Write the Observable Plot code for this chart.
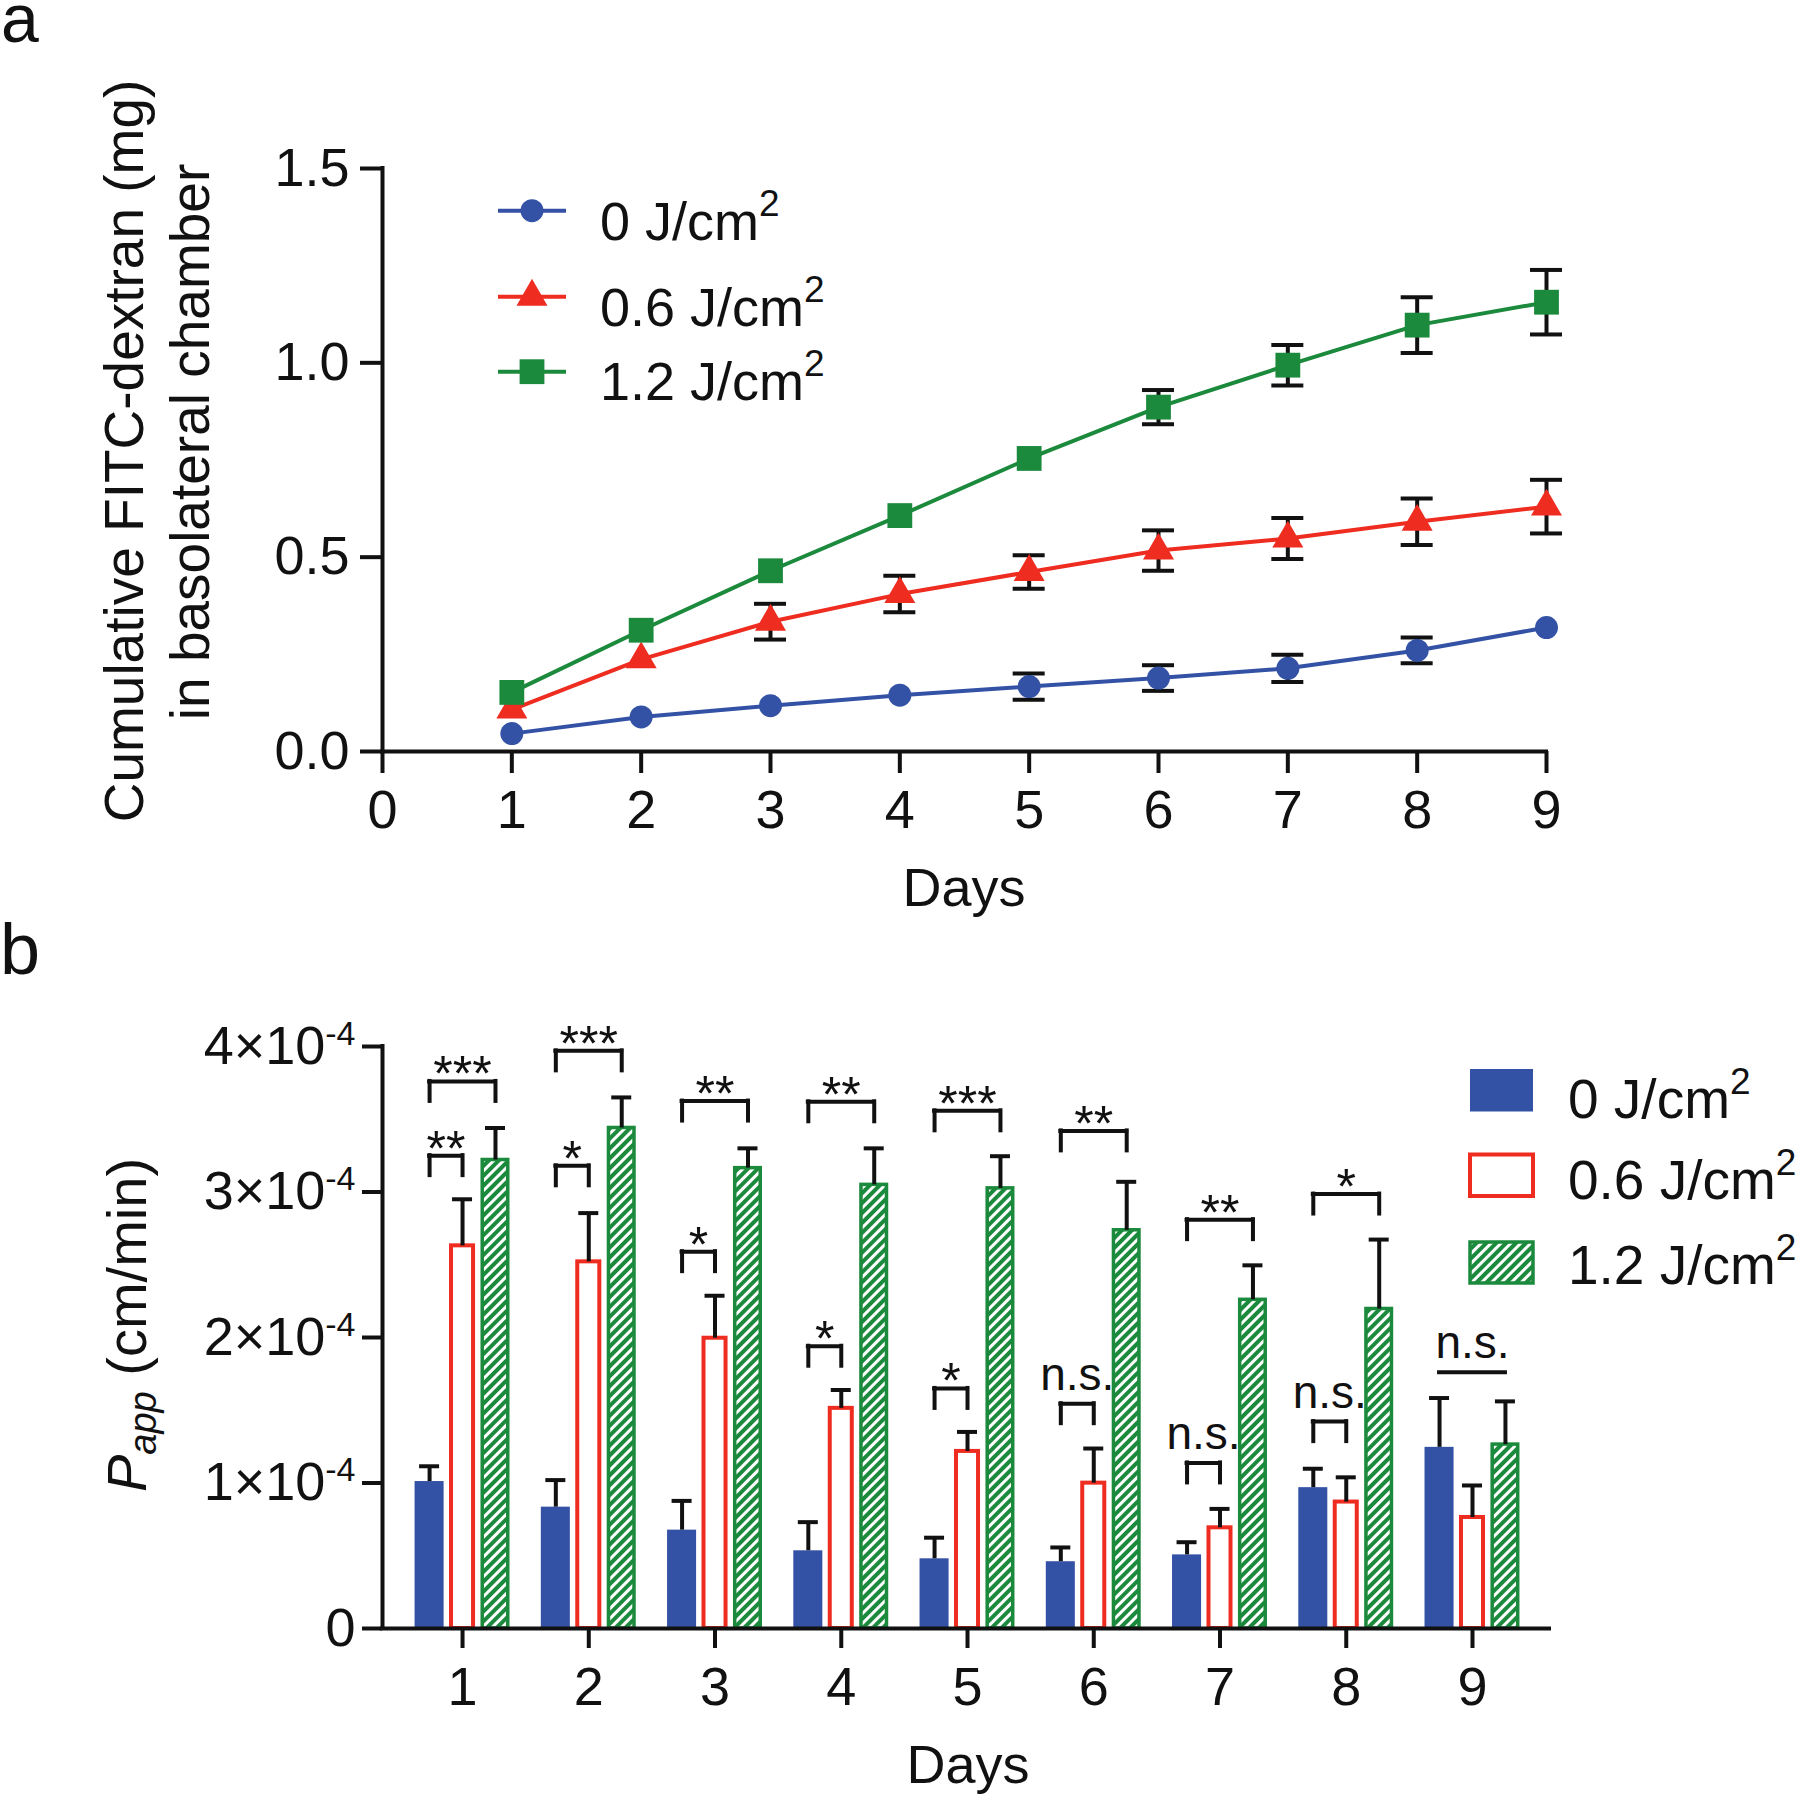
<!DOCTYPE html>
<html><head><meta charset="utf-8">
<script src="https://cdn.jsdelivr.net/npm/d3@7"></script>
<script src="https://cdn.jsdelivr.net/npm/@observablehq/plot@0.6"></script>
<style>
body{margin:0;background:#fff;}
#wrap{position:relative;width:1800px;height:1800px;background:#fff;overflow:hidden;}
#wrap svg{position:absolute;left:0;}
</style></head><body><div id="wrap"></div>
<script>
// ---------- data ----------
const days = [1, 2, 3, 4, 5, 6, 7, 8, 9];
const doseLabels = ["0 J/cm", "0.6 J/cm", "1.2 J/cm"]; // followed by superscript 2
const doseColors = ["#3452A5", "#EE2C20", "#1C8A3C"];

// panel a: cumulative FITC-dextran (mg)
const cum0  = [0.046, 0.089, 0.118, 0.145, 0.167, 0.189, 0.214, 0.260, 0.319];
const cum06 = [0.108, 0.237, 0.334, 0.405, 0.462, 0.517, 0.548, 0.591, 0.630];
const cum12 = [0.152, 0.312, 0.465, 0.607, 0.754, 0.886, 0.994, 1.097, 1.156];
const cumErr0  = [null, null, null, null, 0.034, 0.033, 0.035, 0.033, null];
const cumErr06 = [null, null, 0.046, 0.047, 0.043, 0.052, 0.053, 0.060, 0.069];
const cumErr12 = [null, null, null, null, null, 0.044, 0.052, 0.072, 0.083];
const xTicksA = [0, 1, 2, 3, 4, 5, 6, 7, 8, 9];
const yTicksA = [0, 0.5, 1.0, 1.5];

// panel b: Papp (x10^-4 cm/min)
const papp0  = [1.01, 0.834, 0.676, 0.534, 0.479, 0.459, 0.506, 0.968, 1.245];
const papp06 = [2.63, 2.52, 1.995, 1.513, 1.217, 0.999, 0.692, 0.869, 0.763];
const papp12 = [3.22, 3.44, 3.164, 3.049, 3.025, 2.737, 2.259, 2.196, 1.264];
const pappErr0  = [0.105, 0.186, 0.201, 0.197, 0.145, 0.098, 0.087, 0.130, 0.339];
const pappErr06 = [0.320, 0.335, 0.292, 0.126, 0.134, 0.238, 0.130, 0.170, 0.220];
const pappErr12 = [0.220, 0.210, 0.136, 0.251, 0.221, 0.333, 0.237, 0.477, 0.297];
const yTicksB = [0, 1, 2, 3, 4];

// significance annotations (panel b)
const sigDay   = [1, 1, 2, 2, 3, 3, 4, 4, 5, 5, 6, 6, 7, 7, 8, 8, 9];
const sigPair  = ["0.6", "1.2", "0.6", "1.2", "0.6", "1.2", "0.6", "1.2", "0.6", "1.2", "0.6", "1.2", "0.6", "1.2", "0.6", "1.2", "1.2"];
const sigLevel = [3.25, 3.76, 3.18, 3.97, 2.59, 3.625, 1.94, 3.62, 1.65, 3.558, 1.545, 3.42, 1.138, 2.81, 1.422, 2.986, 1.762];
const sigLabel = ["**", "***", "*", "***", "*", "**", "*", "**", "*", "***", "n.s.", "**", "n.s.", "**", "n.s.", "*", "n.s."];
const sigStyle = ["bracket","bracket","bracket","bracket","bracket","bracket","bracket","bracket","bracket","bracket","bracket","bracket","bracket","bracket","bracket","bracket","line"];

// ---------- setup ----------
const FONT = "'Liberation Sans', Arial, Helvetica, sans-serif";
const wrap = document.getElementById("wrap");
const BLACK = "#111";

// ---------- panel a ----------
const seriesA = [
  {v: cum0,  e: cumErr0,  color: doseColors[0], symbol: "circle",   r: 11.5},
  {v: cum06, e: cumErr06, color: doseColors[1], symbol: "triangle", r: 11.5},
  {v: cum12, e: cumErr12, color: doseColors[2], symbol: "square",   r: 14}
];
const marksA = [];
seriesA.forEach(s => {
  const eRows = days.map((d, i) => ({d, v: s.v[i], e: s.e[i]})).filter(r => r.e != null);
  marksA.push(
    Plot.ruleX(eRows, {x: "d", y1: r => r.v - r.e, y2: r => r.v + r.e, stroke: BLACK, strokeWidth: 4}),
    Plot.ruleY(eRows, {x1: "d", x2: "d", y: r => r.v + r.e, insetLeft: -16, insetRight: -16, stroke: BLACK, strokeWidth: 4}),
    Plot.ruleY(eRows, {x1: "d", x2: "d", y: r => r.v - r.e, insetLeft: -16, insetRight: -16, stroke: BLACK, strokeWidth: 4})
  );
});
seriesA.forEach(s => {
  marksA.push(Plot.line(days, {x: d => d, y: (d, i) => s.v[i], stroke: s.color, strokeWidth: 4}));
});
seriesA.forEach(s => {
  marksA.push(Plot.dot(days, {x: d => d, y: (d, i) => s.v[i], symbol: s.symbol, r: s.r, fill: s.color, stroke: "none"}));
});

const plotA = Plot.plot({
  width: 1800, height: 880,
  marginLeft: 382, marginRight: 254, marginTop: 168, marginBottom: 129,
  x: {domain: [0, 9]},
  y: {domain: [0, 1.5]},
  style: {fontFamily: FONT, fontSize: "54px", color: BLACK, background: "transparent", overflow: "visible"},
  marks: [
    Plot.axisX({ticks: xTicksA, tickSize: 22, tickPadding: 16, strokeWidth: 4, tickFormat: d => String(d), label: null}),
    Plot.axisY({ticks: yTicksA, tickSize: 22, tickPadding: 11, strokeWidth: 4, tickFormat: d3.format(".1f"), label: null}),
    Plot.ruleY([0], {stroke: BLACK, strokeWidth: 4, strokeLinecap: "square"}),
    Plot.ruleX([0], {stroke: BLACK, strokeWidth: 4, strokeLinecap: "square"}),
    ...marksA
  ]
});
plotA.style.top = "0px";
wrap.appendChild(plotA);

// ---------- panel b ----------
const BAR_OFF = 0.261, BAR_HALF = 0.115;
const xDomB = [0.366, 9.61];
const seriesB = [
  {v: papp0,  e: pappErr0,  off: -BAR_OFF, fill: doseColors[0], stroke: "none", sw: 0, inset: 0},
  {v: papp06, e: pappErr06, off: 0,        fill: "white",        stroke: doseColors[1], sw: 4, inset: 3.5},
  {v: papp12, e: pappErr12, off: BAR_OFF,  fill: "url(#hatch)",  stroke: doseColors[2], sw: 3.5, inset: 1.75}
];
const marksB = [];
seriesB.forEach(s => {
  const rows = days.map((d, i) => ({d, v: s.v[i], e: s.e[i]}));
  marksB.push(
    Plot.rect(rows, {x1: r => r.d + s.off - BAR_HALF, x2: r => r.d + s.off + BAR_HALF, y1: 0, y2: "v",
      fill: s.fill, stroke: s.stroke, strokeWidth: s.sw, insetLeft: s.inset, insetRight: s.inset}),
    Plot.ruleX(rows, {x: r => r.d + s.off, y1: "v", y2: r => r.v + r.e, stroke: BLACK, strokeWidth: 4}),
    Plot.ruleY(rows, {x1: r => r.d + s.off, x2: r => r.d + s.off, y: r => r.v + r.e, insetLeft: -10, insetRight: -10, stroke: BLACK, strokeWidth: 4})
  );
});
const sigRows = sigDay.map((d, i) => ({
  day: d, y: sigLevel[i], label: sigLabel[i], style: sigStyle[i],
  xa: d - BAR_OFF, xb: sigPair[i] === "0.6" ? d : d + BAR_OFF
}));
const brRows = sigRows.filter(r => r.style === "bracket");
marksB.push(
  Plot.ruleY(sigRows, {y: "y", x1: "xa", x2: "xb", stroke: BLACK, strokeWidth: 4, strokeLinecap: "square"}),
  Plot.ruleX(brRows, {x: "xa", y1: "y", y2: "y", insetBottom: -20, stroke: BLACK, strokeWidth: 4, strokeLinecap: "square"}),
  Plot.ruleX(brRows, {x: "xb", y1: "y", y2: "y", insetBottom: -20, stroke: BLACK, strokeWidth: 4, strokeLinecap: "square"}),
  Plot.text(sigRows.filter(r => r.label !== "n.s."), {x: r => (r.xa + r.xb) / 2, y: "y", text: "label", lineAnchor: "bottom", dy: 10, fontSize: 50, fill: BLACK}),
  Plot.text(sigRows.filter(r => r.label === "n.s."), {x: r => (r.xa + r.xb) / 2, y: "y", text: "label", lineAnchor: "bottom", dy: -14, fontSize: 46, fill: BLACK})
);

const plotB = Plot.plot({
  width: 1800, height: 920,
  marginLeft: 382, marginRight: 251, marginTop: 166, marginBottom: 172,
  x: {domain: xDomB},
  y: {domain: [0, 4]},
  style: {fontFamily: FONT, fontSize: "54px", color: BLACK, background: "transparent", overflow: "visible"},
  marks: [
    ...marksB,
    Plot.axisX({ticks: days, tickSize: 20, tickPadding: 18, strokeWidth: 4, tickFormat: d => String(d), label: null}),
    Plot.axisY({ticks: yTicksB, tickSize: 20, tickPadding: 7, strokeWidth: 4, tickFormat: d => d === 0 ? "0" : `${d}×10^-4`, label: null}),
    Plot.ruleY([0], {stroke: BLACK, strokeWidth: 4, strokeLinecap: "square"}),
    Plot.ruleX([xDomB[0]], {y1: 0, y2: 4, stroke: BLACK, strokeWidth: 4, strokeLinecap: "square"})
  ]
});
plotB.style.top = "880px";
wrap.appendChild(plotB);

// superscript exponents on y tick labels
d3.select(plotB).selectAll('g[aria-label="y-axis tick label"] text').each(function () {
  const t = d3.select(this);
  const m = t.text().match(/^(.*×10)\^(.*)$/);
  if (m) {
    t.text("");
    t.append("tspan").text(m[1]);
    t.append("tspan").attr("font-size", 34).attr("dy", -19).text(m[2]);
  }
});

// ---------- overlay: labels, titles, legends ----------
const ov = d3.create("svg").attr("width", 1800).attr("height", 1800)
  .style("position", "absolute").style("left", "0px").style("top", "0px")
  .style("pointer-events", "none").style("font-family", FONT).attr("fill", BLACK);
const defs = ov.append("defs");
const pat = defs.append("pattern").attr("id", "hatch").attr("patternUnits", "userSpaceOnUse")
  .attr("width", 7).attr("height", 7).attr("patternTransform", "rotate(45)");
pat.append("rect").attr("width", 7).attr("height", 7).attr("fill", doseColors[2]);
pat.append("rect").attr("width", 3).attr("height", 7).attr("fill", "white");

ov.append("text").attr("x", 1).attr("y", 42).attr("font-size", 68).text("a");
ov.append("text").attr("x", 0).attr("y", 974).attr("font-size", 72).text("b");

// y titles
ov.append("text").attr("transform", "translate(143,451) rotate(-90)").attr("text-anchor", "middle")
  .attr("font-size", 55).text("Cumulative FITC-dextran (mg)");
ov.append("text").attr("transform", "translate(209,442) rotate(-90)").attr("text-anchor", "middle")
  .attr("font-size", 55).text("in basolateral chamber");
const tb = ov.append("text").attr("transform", "translate(146,1325) rotate(-90)").attr("text-anchor", "middle")
  .attr("font-size", 56);
tb.append("tspan").attr("font-style", "italic").text("P");
tb.append("tspan").attr("font-style", "italic").attr("font-size", 38).attr("dy", 10).text("app");
tb.append("tspan").attr("dy", -10).text(" (cm/min)");

// x titles
ov.append("text").attr("x", 964).attr("y", 906).attr("text-anchor", "middle").attr("font-size", 54).text("Days");
ov.append("text").attr("x", 968).attr("y", 1783).attr("text-anchor", "middle").attr("font-size", 54).text("Days");

function supText(x, y, main, fs) {
  const t = ov.append("text").attr("x", x).attr("y", y).attr("font-size", fs);
  t.append("tspan").text(main);
  t.append("tspan").attr("font-size", 37).attr("dy", -24).text("2");
}

// legend a
const legAy = [210.7, 296.7, 371.7], legAt = [240, 326, 400];
seriesA.forEach((s, i) => {
  ov.append("line").attr("x1", 498).attr("x2", 566).attr("y1", legAy[i]).attr("y2", legAy[i])
    .attr("stroke", s.color).attr("stroke-width", 4);
  ov.append("path").attr("transform", `translate(532,${legAy[i]})`)
    .attr("d", d3.symbol(s.symbol === "circle" ? d3.symbolCircle : s.symbol === "triangle" ? d3.symbolTriangle : d3.symbolSquare, s.r * s.r * Math.PI)())
    .attr("fill", s.color);
  supText(600, legAt[i], doseLabels[i], 54);
});

// legend b
const legBy = [1069, 1154.5, 1242], legBh = [42.5, 41.5, 41], legBt = [1118, 1199, 1284];
const legBfill = [doseColors[0], "white", "url(#hatch)"];
const legBstroke = ["none", doseColors[1], doseColors[2]];
const legBsw = [0, 4, 3.5];
[0, 1, 2].forEach(i => {
  ov.append("rect").attr("x", 1470).attr("y", legBy[i]).attr("width", 63).attr("height", legBh[i])
    .attr("fill", legBfill[i]).attr("stroke", legBstroke[i]).attr("stroke-width", legBsw[i]);
  supText(1568, legBt[i], doseLabels[i], 55);
});

wrap.appendChild(ov.node());
</script>
</body></html>
